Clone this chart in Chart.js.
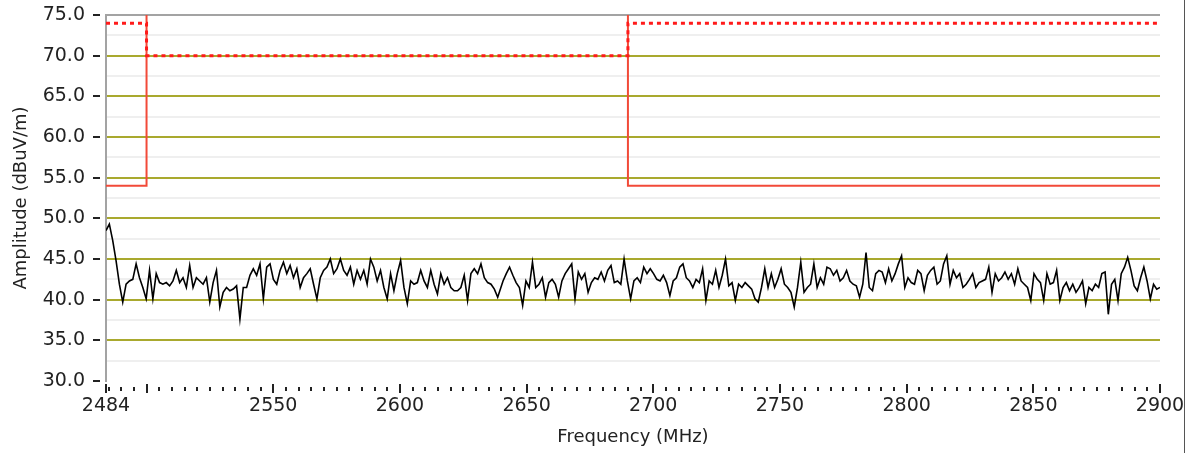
<!DOCTYPE html>
<html>
<head>
<meta charset="utf-8">
<script src="https://cdn.jsdelivr.net/npm/chart.js@4"></script>
<style>
  html, body { margin: 0; padding: 0; background: #fff; }
  #wrap { position: relative; width: 1189px; height: 453px; }
  #frame { position: absolute; left: 1184px; top: 0; width: 1px; height: 453px; background: #555; }
</style>
</head>
<body>
<div id="wrap">
  <canvas id="chart" width="1189" height="453"></canvas>
  <div id="frame"></div>
</div>
<script>
// frequency axis (MHz)
const freqMin = 2484;
const freqMax = 2900;
const freqLabels = [2484, 2550, 2600, 2650, 2700, 2750, 2800, 2850, 2900];

// amplitude axis (dBuV/m)
const ampMin = 30;
const ampMax = 75;

// limit lines (the average one runs off the top inside the band)
const limitFreq = [2484, 2500, 2500, 2690, 2690, 2900];
const peakLimit = [74, 74, 70, 70, 74, 74];
const avgLimit = [54, 54, 100, 100, 54, 54];

const traceASpan = [2484, 2638.6];
const traceA = [48.5, 49.3, 47.3, 44.8, 41.9, 39.7, 41.9, 42.3, 42.5, 44.4, 42.7, 41.5, 40.1, 43.6, 40.1, 43.2,
  42.1, 41.9, 42.1, 41.7, 42.3, 43.6, 42.1, 42.7, 41.5, 44.2, 41.5, 42.7, 42.3, 41.9, 42.7, 39.7, 42.1, 43.6,
  39.1, 40.9, 41.5, 41.1, 41.3, 41.7, 37.6, 41.5, 41.5, 43, 43.8, 43, 44.4, 40.1, 44, 44.4, 42.5, 41.9, 43.6,
  44.6, 43.2, 44.2, 42.7, 43.8, 41.5, 42.7, 43.2, 43.8, 41.9, 40.1, 42.7, 43.6, 44, 45, 43.2, 43.8, 45, 43.6,
  43, 44, 41.9, 43.6, 42.5, 43.6, 41.9, 45, 44, 42.3, 43.6, 41.5, 40.1, 43.2, 41.1, 43.2, 44.8, 41.5, 39.5,
  42.3, 41.9, 42.1, 43.6, 42.3, 41.5, 43.6, 41.9, 40.7, 43.2, 41.9, 42.7, 41.5, 41.1, 41.1, 41.5, 43, 39.9,
  43.2, 43.8, 43.2, 44.4, 42.7, 42.1, 41.9, 41.3, 40.3];

const traceBSpan = [2640.7, 2776.3];
const traceB = [42.3, 43.2, 44, 43, 42.1, 41.5, 39.3, 42.3, 41.5, 44.6, 41.5, 41.9, 42.7, 40.3, 42.1, 42.5,
  41.9, 40.3, 42.3, 43.2, 43.8, 44.4, 40.1, 43.4, 42.5, 43.2, 40.9, 42.1, 42.7, 42.5, 43.4, 42.3, 43.6, 44.2,
  42.1, 42.3, 41.9, 45, 42.3, 40.1, 42.3, 42.7, 42.1, 44, 43.2, 43.8, 43.2, 42.5, 42.3, 43, 42.1, 40.5, 42.3,
  42.7, 44, 44.4, 42.7, 42.3, 41.5, 42.5, 42.1, 43.8, 39.9, 42.3, 41.9, 43.6, 41.5, 43, 45, 41.7, 42.1, 39.9,
  41.9, 41.5, 42.1, 41.7, 41.3, 40.1, 39.7, 41.5, 43.8, 41.5, 43.2, 41.5, 42.5, 43.8, 41.9, 41.5, 40.9, 39.1,
  41.5, 44.6, 40.9, 41.5, 41.9, 44.4, 41.5, 42.7, 41.9, 44, 43.8, 43, 43.6, 42.3, 42.7, 43.6];

const traceCSpan = [2777.6, 2900];
const traceC = [42.3, 41.9, 41.7, 40.3, 41.9, 45.8, 41.5, 41.1, 43.2, 43.6, 43.4, 42.1, 43.8, 42.3, 43.2,
  44.4, 45.4, 41.5, 42.7, 42.1, 41.9, 43.6, 43.2, 41.1, 43, 43.6, 44, 41.9, 42.3, 44.4, 45.4, 41.9, 43.6,
  42.7, 43.2, 41.5, 41.9, 42.5, 43.2, 41.5, 42.1, 42.3, 42.5, 44, 40.9, 43.2, 42.3, 42.7, 43.4, 42.5, 43.2,
  41.9, 43.8, 42.3, 41.9, 41.5, 39.9, 43.2, 42.5, 42.1, 39.9, 43.2, 41.9, 42.1, 43.6, 39.9, 41.5, 42.1, 41.1,
  41.9, 40.9, 41.5, 42.3, 39.5, 41.5, 41.1, 41.9, 41.5, 43.2, 43.4, 38.2, 41.9, 42.5, 39.9, 43.2, 44, 45.2,
  43.6, 41.7, 41.1, 42.7, 44, 42.3, 40.1, 41.9, 41.3, 41.5];

// spread each piece evenly over its frequency span
function spread(span, values) {
    return values.map((v, i) => ({
        x: span[0] + (span[1] - span[0]) * i / (values.length - 1),
        y: v
    }));
}

const tracePoints = spread(traceASpan, traceA)
    .concat(spread(traceBSpan, traceB))
    .concat(spread(traceCSpan, traceC));

const textColor = '#222';
const tickFont = { family: 'DejaVu Sans', size: 19 };
const titleFont = { family: 'DejaVu Sans', size: 18 };

// tick marks sit a little off the plot, so draw them by hand from the scales
const tickMarks = {
    id: 'tickMarks',
    afterDraw(chart) {
        const { ctx, chartArea, scales } = chart;
        ctx.save();
        ctx.strokeStyle = '#222';
        ctx.lineWidth = 2;
        for (let v = ampMin; v <= ampMax; v += 5) {
            const py = Math.round(scales.y.getPixelForValue(v));
            ctx.beginPath();
            ctx.moveTo(chartArea.left - 13, py);
            ctx.lineTo(chartArea.left - 6, py);
            ctx.stroke();
        }
        const marks = [freqMin];
        for (let f = 2485; f <= freqMax; f += 5) marks.push(f);
        marks.forEach(f => {
            const px = Math.round(scales.x.getPixelForValue(f));
            const big = f === freqMin || f % 50 === 0 || f === 2500;
            ctx.beginPath();
            ctx.moveTo(px, chartArea.bottom + (big ? 3 : 6));
            ctx.lineTo(px, chartArea.bottom + (big ? 12 : 10));
            ctx.stroke();
        });
        ctx.restore();
    }
};

new Chart(document.getElementById('chart'), {
    type: 'line',
    data: {
        datasets: [
            {
                label: 'Peak limit',
                data: limitFreq.map((f, i) => ({ x: f, y: peakLimit[i] })),
                borderColor: '#ff1a1a',
                borderWidth: 3,
                borderDash: [4, 4],
                borderCapStyle: 'butt',
                pointRadius: 0,
                tension: 0
            },
            {
                label: 'Average limit',
                data: limitFreq.map((f, i) => ({ x: f, y: avgLimit[i] })),
                borderColor: '#f24a38',
                borderWidth: 2,
                pointRadius: 0,
                tension: 0
            },
            {
                label: 'Trace',
                data: tracePoints,
                borderColor: '#000',
                borderWidth: 1.6,
                pointRadius: 0,
                tension: 0
            }
        ]
    },
    options: {
        responsive: false,
        animation: false,
        layout: { padding: { top: 15, right: 29, left: 0, bottom: 0 } },
        plugins: {
            legend: { display: false },
            tooltip: { enabled: false }
        },
        scales: {
            x: {
                type: 'linear',
                min: freqMin,
                max: freqMax,
                afterBuildTicks: scale => { scale.ticks = freqLabels.map(v => ({ value: v })); },
                afterFit: scale => {
                    scale.height = 72;
                    scale.paddingLeft = 0;
                    scale.paddingRight = 0;
                },
                ticks: {
                    autoSkip: false,
                    maxRotation: 0,
                    padding: 14,
                    color: textColor,
                    font: tickFont,
                    callback: v => String(v)
                },
                grid: { display: false, drawTicks: false },
                border: { display: false },
                title: {
                    display: true,
                    text: 'Frequency (MHz)',
                    color: textColor,
                    font: titleFont,
                    padding: { top: 0, bottom: 5 }
                }
            },
            y: {
                min: ampMin,
                max: ampMax,
                afterFit: scale => {
                    scale.width = 106;
                    scale.paddingTop = 0;
                    scale.paddingBottom = 0;
                },
                ticks: {
                    stepSize: 2.5,
                    autoSkip: false,
                    padding: 21,
                    color: textColor,
                    font: tickFont,
                    callback: v => (v % 5 === 0 ? v.toFixed(1) : '')
                },
                grid: {
                    drawTicks: false,
                    lineWidth: 2,
                    color: c => {
                        const v = c.tick.value;
                        if (v === ampMax) return '#a3a3a3';
                        if (v === ampMin) return 'rgba(0,0,0,0)';
                        return v % 5 === 0 ? '#a9a92e' : '#efefef';
                    }
                },
                border: { color: '#a3a3a3', width: 2 },
                title: {
                    display: true,
                    text: 'Amplitude (dBuV/m)',
                    color: textColor,
                    font: titleFont,
                    padding: { top: 11, bottom: 0 }
                }
            }
        }
    },
    plugins: [tickMarks]
});
</script>
</body>
</html>
